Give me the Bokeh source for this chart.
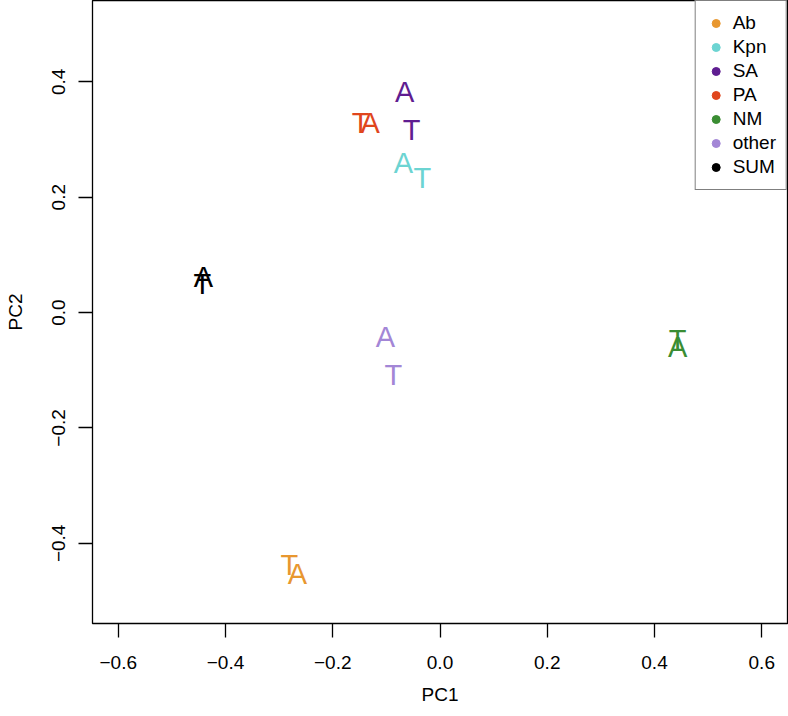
from bokeh.plotting import figure
from bokeh.models import Range1d, FixedTicker, CustomJSTickFormatter, Legend, LegendItem, ColumnDataSource
from bokeh.core.properties import value
from bokeh.embed import file_html
from bokeh.resources import INLINE

groups = ["Ab", "Kpn", "SA", "PA", "NM", "other", "SUM"]
colors = ["#E8972F", "#6CD4D2", "#5F1D91", "#E0461D", "#3A8D33", "#A386D6", "#000000"]
pc1_A = [-0.266, -0.068, -0.066, -0.130, 0.443, -0.102, -0.441]
pc2_A = [-0.454, 0.260, 0.382, 0.328, -0.059, -0.043, 0.062]
pc1_T = [-0.281, -0.033, -0.053, -0.148, 0.443, -0.087, -0.443]
pc2_T = [-0.437, 0.234, 0.317, 0.328, -0.047, -0.108, 0.050]
x_ticks = [-0.6, -0.4, -0.2, 0.0, 0.2, 0.4, 0.6]
y_ticks = [-0.4, -0.2, 0.0, 0.2, 0.4]

FONT = "Liberation Sans"

p = figure(width=788, height=716, output_backend="svg", toolbar_location=None,
           x_range=Range1d(-0.648, 0.648), y_range=Range1d(-0.539, 0.541),
           min_border_left=92, min_border_right=1, min_border_top=0, min_border_bottom=93,
           x_axis_label="PC1", y_axis_label="PC2")
p.background_fill_color = "white"
p.border_fill_color = "white"
p.outline_line_color = "black"
p.outline_line_width = 1.3
p.grid.visible = False

fmt = CustomJSTickFormatter(code="return tick.toFixed(1).replace('-', '\u2212');")
for ax, ticks in ((p.xaxis[0], x_ticks), (p.yaxis[0], y_ticks)):
    ax.ticker = FixedTicker(ticks=ticks)
    ax.formatter = fmt
    ax.axis_line_color = None
    ax.major_tick_in = 0
    ax.major_tick_out = 14
    ax.major_tick_line_color = "black"
    ax.major_tick_line_width = 1.3
    ax.minor_tick_line_color = None
    ax.major_label_text_font = FONT
    ax.major_label_text_font_size = "19px"
    ax.major_label_text_color = "black"
    ax.axis_label_text_font = FONT
    ax.axis_label_text_font_size = "19px"
    ax.axis_label_text_font_style = "normal"
    ax.axis_label_text_color = "black"

p.yaxis.major_label_orientation = "vertical"
p.yaxis.major_label_standoff = 13
p.yaxis.axis_label_standoff = 24
p.xaxis.major_label_standoff = 18
p.xaxis.axis_label_standoff = 12

src_T = ColumnDataSource(dict(x=pc1_T, y=pc2_T, c=colors, t=["T"] * len(groups)))
src_A = ColumnDataSource(dict(x=pc1_A, y=pc2_A, c=colors, t=["A"] * len(groups)))
for src in (src_T, src_A):
    p.text(x="x", y="y", text="t", source=src, text_color="c",
           text_font=value(FONT), text_font_size="29px",
           text_align="center", text_baseline="alphabetic", y_offset=0)

items = []
nan = float("nan")
for g, c in zip(groups, colors):
    r = p.scatter(x=[nan], y=[nan], marker="circle", size=8, fill_color=c, line_color=c)
    items.append(LegendItem(label=g, renderers=[r]))

legend = Legend(items=items, location="top_right", margin=0, padding=10, spacing=0,
                glyph_width=20, glyph_height=24, label_height=24, label_standoff=7,
                label_text_font=FONT, label_text_font_size="19px", label_text_color="black",
                border_line_color="black", border_line_width=1.3,
                background_fill_color="white", background_fill_alpha=1.0)
p.add_layout(legend, "center")

open("out.html", "w").write(file_html(p, INLINE))
